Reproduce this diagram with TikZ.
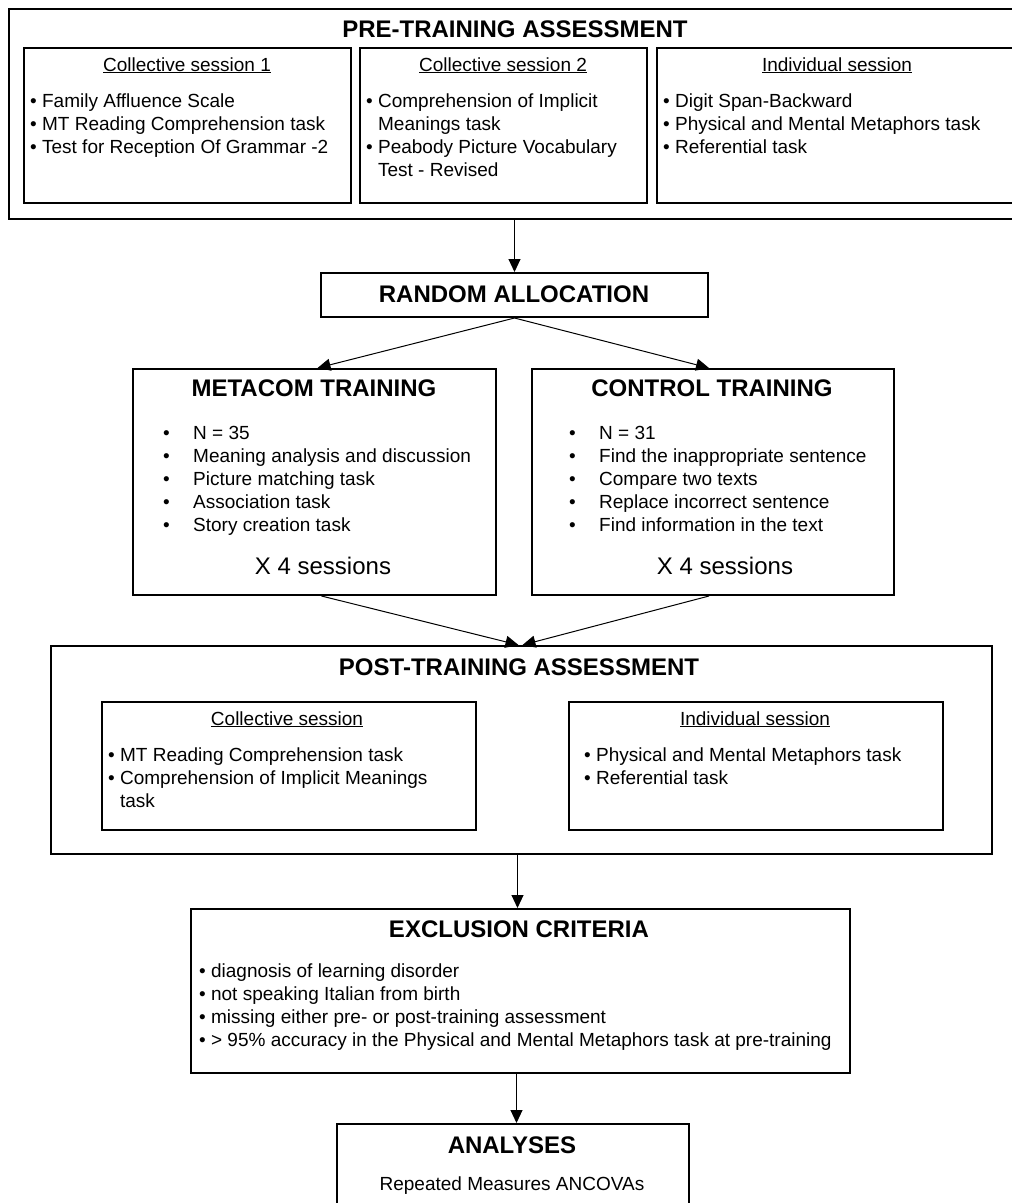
\documentclass[tikz,border=0pt]{standalone}
\usepackage{fontspec}
\setmainfont{Liberation Sans}
\usetikzlibrary{arrows.meta}
\newcommand{\myBody}{\fontsize{19}{23}\selectfont}
\newcommand{\myTitle}{\fontsize{24}{28}\selectfont\bfseries}
\newcommand{\myBig}{\fontsize{24}{28}\selectfont}
\newcommand{\myBt}{\textbullet\ }
\newcommand{\myHang}{\hphantom{\textbullet\ }}
\newcommand{\myTb}{\makebox[30pt][l]{\textbullet}}
\tikzset{
  box/.style={draw=black, line width=2pt, inner sep=0pt, anchor=north west},
  ttl/.style={font=\myTitle, anchor=base, inner sep=0pt},
  sub/.style={font=\myBody, anchor=base, inner sep=0pt},
  lst/.style={font=\myBody, align=left, anchor=north west, inner sep=0pt},
  arr/.style={-{Triangle[length=13pt,width=12pt]}, line width=1pt}
}
\begin{document}
\begin{tikzpicture}[x=1pt,y=-1pt]
\useasboundingbox (0,0) rectangle (1012,1203);
\clip (0,0) rectangle (1012,1203);
% PRE-TRAINING
\node[box, minimum width=1030pt, minimum height=210pt] (pre) at (8,8) {};
\node[ttl] (pre-t) at (515,37) {PRE-TRAINING ASSESSMENT};
\node[box, minimum width=327pt, minimum height=155pt] (c1) at (23,47) {};
\node[box, minimum width=287pt, minimum height=155pt] (c2) at (359,47) {};
\node[box, minimum width=380pt, minimum height=155pt] (c3) at (656,47) {};
\node[sub] (c1-t) at (187,71) {\underline{Collective session 1}};
\node[sub] (c2-t) at (503,71) {\underline{Collective session 2}};
\node[sub] (c3-t) at (837,71) {\underline{Individual session}};
\node[lst] (c1-l) at (30,91) {\strut\myBt Family Affluence Scale\\
  \strut\myBt MT Reading Comprehension task\\
  \strut\myBt Test for Reception Of Grammar -2};
\node[lst] (c2-l) at (366,91) {\strut\myBt Comprehension of Implicit\\
  \strut\myHang Meanings task\\
  \strut\myBt Peabody Picture Vocabulary\\
  \strut\myHang Test - Revised};
\node[lst] (c3-l) at (663,91) {\strut\myBt Digit Span-Backward\\
  \strut\myBt Physical and Mental Metaphors task\\
  \strut\myBt Referential task};
% RANDOM ALLOCATION
\node[box, minimum width=387pt, minimum height=44pt] (ra) at (320,272) {};
\node[ttl] (ra-t) at (514,302) {RANDOM ALLOCATION};
% TRAININGS
\node[box, minimum width=363pt, minimum height=226pt] (meta) at (132,368) {};
\node[ttl] (meta-t) at (314,396) {METACOM TRAINING};
\node[lst] (meta-l) at (163,423) {\strut\myTb N = 35\\
  \strut\myTb Meaning analysis and discussion\\
  \strut\myTb Picture matching task\\
  \strut\myTb Association task\\
  \strut\myTb Story creation task};
\node[font=\myBig, anchor=base, inner sep=0pt] (meta-x) at (323,574) {X 4 sessions};
\node[box, minimum width=362pt, minimum height=226pt] (ctrl) at (531,368) {};
\node[ttl] (ctrl-t) at (712,396) {CONTROL TRAINING};
\node[lst] (ctrl-l) at (569,423) {\strut\myTb N = 31\\
  \strut\myTb Find the inappropriate sentence\\
  \strut\myTb Compare two texts\\
  \strut\myTb Replace incorrect sentence\\
  \strut\myTb Find information in the text};
\node[font=\myBig, anchor=base, inner sep=0pt] (ctrl-x) at (725,574) {X 4 sessions};
% POST-TRAINING
\node[box, minimum width=941pt, minimum height=208pt] (post) at (50,645) {};
\node[ttl] (post-t) at (519,675) {POST-TRAINING ASSESSMENT};
\node[box, minimum width=374pt, minimum height=128pt] (p1) at (101,701) {};
\node[box, minimum width=374pt, minimum height=128pt] (p2) at (568,701) {};
\node[sub] (p1-t) at (287,725) {\underline{Collective session}};
\node[sub] (p2-t) at (755,725) {\underline{Individual session}};
\node[lst] (p1-l) at (108,745) {\strut\myBt MT Reading Comprehension task\\
  \strut\myBt Comprehension of Implicit Meanings\\
  \strut\myHang task};
\node[lst] (p2-l) at (584,745) {\strut\myBt Physical and Mental Metaphors task\\
  \strut\myBt Referential task};
% EXCLUSION
\node[box, minimum width=659pt, minimum height=164pt] (excl) at (190,908) {};
\node[ttl] (excl-t) at (519,937) {EXCLUSION CRITERIA};
\node[lst] (excl-l) at (199,961) {\strut\myBt diagnosis of learning disorder\\
  \strut\myBt not speaking Italian from birth\\
  \strut\myBt missing either pre- or post-training assessment\\
  \strut\myBt > 95\% accuracy in the Physical and Mental Metaphors task at pre-training};
% ANALYSES
\node[box, minimum width=352pt, minimum height=110pt] (an) at (336,1123) {};
\node[ttl] (an-t) at (512,1153) {ANALYSES};
\node[sub] (an-l) at (512,1190) {Repeated Measures ANCOVAs};
% CONNECTORS
\draw[arr] (pre.south -| ra.north) -- (ra.north);
\draw[arr] (ra.south) -- ([xshift=3pt]meta.north);
\draw[arr] (ra.south) -- ([xshift=-4pt]ctrl.north);
\draw[arr] ([xshift=7pt]meta.south) -- ([xshift=-3pt]post.north);
\draw[arr] ([xshift=-4pt]ctrl.south) -- ([xshift=1pt]post.north);
\draw[arr] ([xshift=-4pt]post.south) -- ([xshift=-4pt]post.south |- excl.north);
\draw[arr] ([xshift=-4pt]excl.south) -- ([xshift=-4pt]excl.south |- an.north);
\end{tikzpicture}
\end{document}
